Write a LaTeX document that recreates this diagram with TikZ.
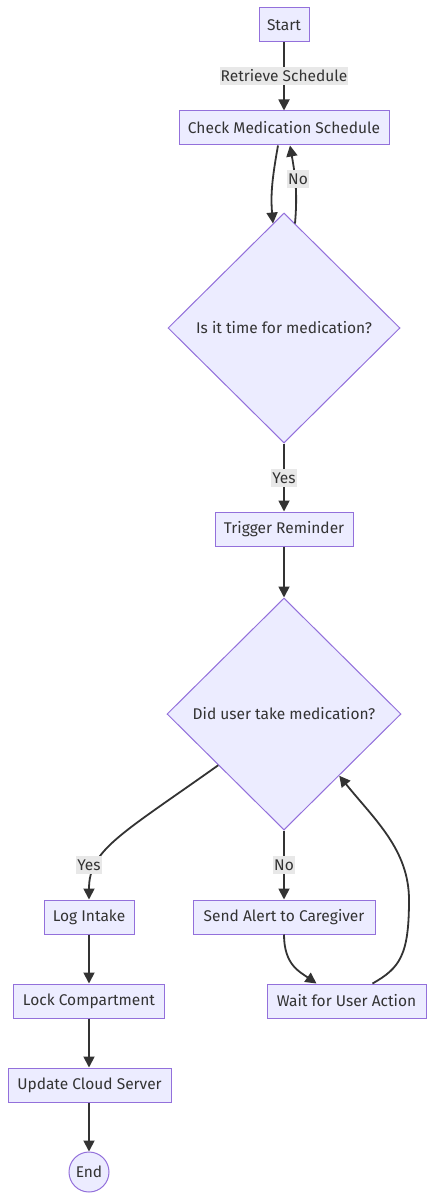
\documentclass[tikz,border=0pt]{standalone}
\usepackage{fontspec}
\setmainfont{Fira Sans}
\usetikzlibrary{arrows.meta,shapes.geometric,calc}
\definecolor{nodefill}{HTML}{ECECFF}
\definecolor{nodeline}{HTML}{9370DB}
\definecolor{edgecol}{HTML}{333333}
\definecolor{lblbg}{HTML}{E8E8E8}
\tikzset{
  every node/.style={font=\fontsize{15.5}{18}\selectfont, text=edgecol},
  box/.style={draw=nodeline, fill=nodefill, line width=1pt, rectangle, minimum height=34pt, inner sep=0pt},
  decision/.style={draw=nodeline, fill=nodefill, line width=1pt, diamond, inner sep=0pt, minimum width=232pt, minimum height=230pt},
  endcircle/.style={draw=nodeline, fill=nodefill, line width=1pt, circle, minimum size=40pt, inner sep=0pt},
  edge/.style={draw=edgecol, line width=1.8pt, -{Triangle[length=11pt,width=11pt]}},
  lbl/.style={fill=lblbg, inner sep=1pt, minimum height=18pt}
}
\begin{document}
\begin{tikzpicture}[x=1pt,y=-1pt]
\useasboundingbox (0,0) rectangle (434,1201);
\node[box, minimum width=50pt] (start) at (284,25) {Start};
\node[box, minimum width=210pt] (check) at (284,128) {Check Medication Schedule};
\node[decision] (d1) at (284,328) {Is it time for medication?};
\node[box, minimum width=138pt] (trig) at (284,529) {Trigger Reminder};
\node[decision, minimum width=234pt, minimum height=232pt] (d2) at (284,714) {Did user take medication?};
\node[box, minimum width=90pt] (log) at (89,917) {Log Intake};
\node[box, minimum width=182pt] (send) at (284,917) {Send Alert to Caregiver};
\node[box, minimum width=151pt] (lock) at (89,1001) {Lock Compartment};
\node[box, minimum width=159pt] (wait) at (346.5,1001) {Wait for User Action};
\node[box, minimum width=163pt] (upd) at (89.5,1085) {Update Cloud Server};
\node[endcircle] (end) at (89,1172) {End};

\draw[edge] (start) -- (check);
\draw[edge] ($(check.south)+(-6,0)$) to[out=-100,in=95] ($(d1.north)+(-11,11)$);
\draw[edge] ($(d1.north)+(11,11)$) to[out=85,in=-80] ($(check.south)+(6,0)$);
\draw[edge] (d1) -- (trig);
\draw[edge] (trig) -- (d2);
\draw[edge] ($(d2.west)!0.44!(d2.south)$) .. controls (120,835) and (89,850) .. (log.north);
\draw[edge] (d2.south) -- (send.north);
\draw[edge] (send.south) .. controls (284,965) and (300,972) .. ($(wait.north)+(-30,0)$);
\draw[edge] ($(wait.north)+(26,0)$) .. controls (400,968) and (409,955) .. (409,900) .. controls (409,850) and (375,820) .. ($(d2.east)!0.53!(d2.south)$);
\draw[edge] (log) -- (lock);
\draw[edge] (lock.south) -- (lock.south |- upd.north);
\draw[edge] (upd.south -| end.north) -- (end.north);

\node[lbl] (l1) at (284,76) {Retrieve Schedule};
\node[lbl] (l2) at (298,179) {No};
\node[lbl] (l3) at (284,478) {Yes};
\node[lbl] (l4) at (89,865) {Yes};
\node[lbl] (l5) at (284,865) {No};
\end{tikzpicture}
\end{document}
